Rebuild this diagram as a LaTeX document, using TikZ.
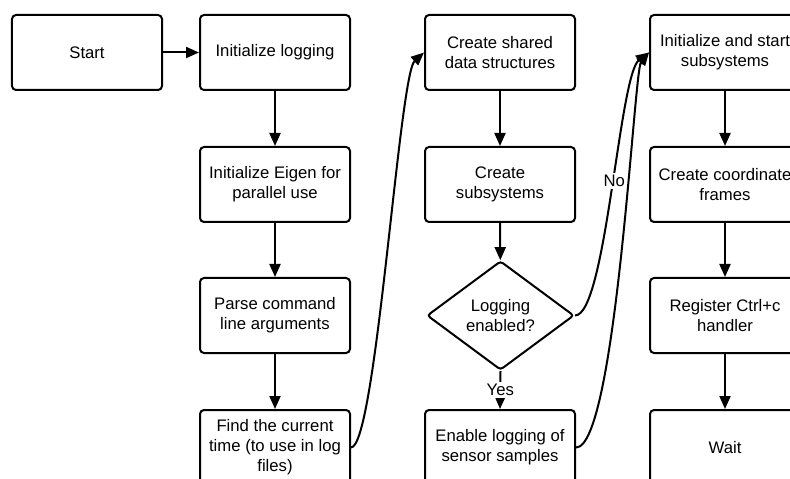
\documentclass[tikz,border=0pt]{standalone}
\usepackage{fontspec}
\setmainfont{Liberation Sans}
\usetikzlibrary{arrows.meta,shapes.geometric}
\begin{document}
\begin{tikzpicture}[x=1bp,y=-1bp,
  every node/.style={font=\fontsize{16.7bp}{20bp}\selectfont},
  stepbox/.style={draw, line width=2bp, rounded corners=4bp,
    minimum width=150bp, minimum height=75bp, align=center, inner sep=0pt},
  decision/.style={draw, diamond, line width=2bp, rounded corners=3bp,
    minimum width=147bp, minimum height=109bp, inner sep=0pt, align=center},
  flow/.style={draw, line width=2bp, -{Triangle[length=13bp,width=11bp]}},
  tag/.style={fill=white, inner sep=2bp}
]
\useasboundingbox (0,0) rectangle (790,479);
\fill[white] (0,0) rectangle (790,479);
\clip (0,0) rectangle (790,479);

% first column
\node[stepbox] (start)  at (87,52.5)   {Start};
\node[stepbox] (init)   at (275,52.5)  {Initialize logging};
\node[stepbox] (eigen)  at (275,184.5) {Initialize Eigen for\\parallel use};
\node[stepbox] (parse)  at (275,315.5) {Parse command\\line arguments};
\node[stepbox] (find)   at (275,447.5) {Find the current\\time (to use in log\\files)};

% second column
\node[stepbox] (shared) at (500,52.5)  {Create shared\\data structures};
\node[stepbox] (subsys) at (500,184.5) {Create\\subsystems};
\node[decision] (logq)  at (500.5,315.5) {Logging\\enabled?};
\node[stepbox] (enable) at (500,447.5) {Enable logging of\\sensor samples};

% third column
\node[stepbox] (run)    at (725,52.5)  {Initialize and start\\subsystems};
\node[stepbox] (frames) at (725,184.5) {Create coordinate\\frames};
\node[stepbox] (ctrlc)  at (725,315.5) {Register Ctrl+c\\handler};
\node[stepbox] (wait)   at (725,447.5) {Wait};

% straight connectors
\draw[flow] (start) -- (init);
\draw[flow] (init) -- (eigen);
\draw[flow] (eigen) -- (parse);
\draw[flow] (parse) -- (find);
\draw[flow] (shared) -- (subsys);
\draw[flow] (subsys) -- (logq);
\draw[flow] (logq.south) -- node[tag] {Yes} (enable.north);
\draw[flow] (run) -- (frames);
\draw[flow] (frames) -- (ctrlc);
\draw[flow] (ctrlc) -- (wait);

% curved connectors between columns
\draw[flow] (find.east) .. controls +(25,0) and +(-25,22.5) .. (shared.west);
\draw[flow] (logq.east) .. controls +(31,0) and +(-30,22.5) .. node[tag, pos=0.53] {No} (run.west);
\draw[flow] (enable.east) .. controls +(40,0) and +(-15,18) .. (run.west);
\end{tikzpicture}
\end{document}
